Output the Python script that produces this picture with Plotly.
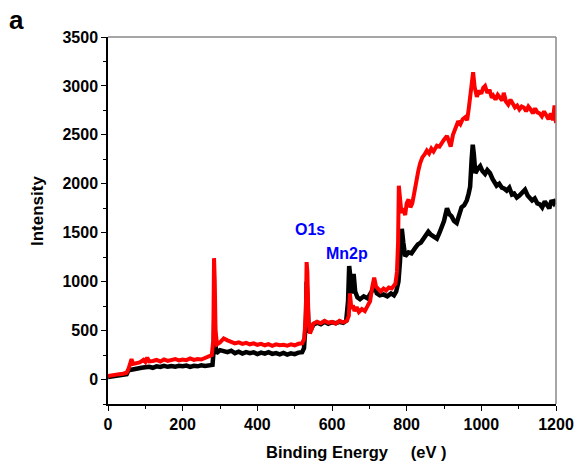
import plotly.graph_objects as go

# ---- data ----
black_x = [0, 10, 20, 30, 40, 50, 55, 60, 70, 80, 90, 100, 110, 120, 130, 140, 150, 160, 170, 180, 190, 200,
           210, 220, 230, 240, 250, 260, 270, 280, 283, 285, 287, 290, 300, 310, 320, 330, 340, 350, 360, 370,
           380, 390, 400, 410, 420, 430, 440, 450, 460, 470, 480, 490, 500, 510, 520, 525, 530, 532, 535, 538,
           545, 550, 560, 570, 580, 590, 600, 610, 620, 630, 638, 643, 646, 650, 654, 658, 662, 668, 675, 685,
           695, 700, 708, 714, 720, 728, 738, 748, 758, 766, 772, 778, 782, 787, 791, 796, 805, 813, 822, 830,
           838, 846, 852, 858, 865, 872, 881, 888, 894, 900, 908, 914, 920, 927, 934, 940, 947, 954, 961, 966,
           970, 974, 977, 980, 984, 990, 997, 1003, 1010, 1016, 1023, 1030, 1036, 1041, 1048, 1055, 1062, 1068,
           1075, 1082, 1088, 1095, 1102, 1110, 1117, 1124, 1130, 1136, 1143, 1150, 1157, 1163, 1170, 1176, 1182,
           1188, 1194, 1200]
black_y = [25, 30, 35, 40, 45, 55, 95, 100, 105, 115, 120, 125, 130, 120, 135, 128, 140, 130, 138, 132, 140, 135,
           142, 130, 140, 135, 145, 138, 148, 150, 300, 700, 400, 270, 300, 290, 280, 295, 270, 285, 265, 280,
           270, 278, 260, 275, 265, 280, 262, 270, 258, 272, 255, 268, 260, 275, 280, 320, 600, 1000, 700, 480,
           520, 560, 580, 565, 590, 570, 585, 575, 590, 580, 600, 800, 1160, 950, 880, 1080, 900, 840, 820, 850,
           830, 860, 920, 950, 880, 860, 870, 850, 880, 860, 900, 1000, 1200, 1540, 1400, 1260, 1300, 1290, 1340, 1380,
           1400, 1450, 1480, 1510, 1480, 1460, 1440, 1500, 1560, 1620, 1750, 1690, 1670, 1620, 1600, 1680, 1760, 1780, 1830, 1900,
           1970, 2250, 2400, 2300, 2110, 2150, 2180, 2130, 2100, 2140, 2110, 2050, 2020, 1980, 2000, 1960, 1950, 1930,
           1960, 1890, 1900, 1860, 1880, 1920, 1940, 1880, 1860, 1830, 1850, 1800, 1790, 1760, 1820, 1790, 1750,
           1830, 1800, 1840]

red_x = [0, 10, 20, 30, 40, 50, 55, 60, 63, 67, 75, 85, 95, 100, 105, 110, 120, 130, 140, 150, 160, 170, 180,
         190, 200, 210, 220, 230, 240, 250, 260, 270, 278, 282, 284, 286, 288, 292, 300, 310, 320, 330, 340, 350,
         360, 370, 380, 390, 400, 410, 420, 430, 440, 450, 460, 470, 480, 490, 500, 510, 520, 526, 530, 532, 534,
         537, 541, 546, 550, 560, 570, 580, 590, 600, 610, 620, 630, 640, 645, 648, 652, 656, 660, 666, 672, 680,
         688, 695, 702, 708, 713, 718, 724, 730, 738, 745, 752, 760, 766, 770, 774, 777, 779, 782, 786, 791, 796,
         800, 805, 810, 815, 820, 826, 831, 836, 842, 848, 854, 860, 866, 872, 881, 888, 894, 900, 908, 913, 918,
         924, 930, 938, 944, 950, 957, 962, 966, 970, 974, 978, 982, 988, 994, 1000, 1005, 1010, 1016, 1022, 1028,
         1032, 1038, 1044, 1050, 1056, 1060, 1066, 1072, 1078, 1084, 1090, 1096, 1102, 1108, 1114, 1120, 1126,
         1132, 1138, 1144, 1150, 1156, 1162, 1168, 1174, 1180, 1186, 1192, 1196, 1200]
red_y = [35, 45, 50, 55, 60, 70, 110, 190, 210, 160, 165, 175, 200, 180, 225, 185, 190, 200, 185, 205, 190, 200, 210,
         195, 205, 198, 215, 200, 210, 205, 220, 230, 250, 400, 1240, 1000, 500, 360, 380, 420, 400, 390, 370, 380,
         365, 375, 360, 370, 355, 365, 350, 362, 345, 360, 350, 355, 345, 360, 350, 365, 370, 420, 700, 1200, 1100,
         600, 470, 520, 570, 590, 575, 600, 580, 590, 570, 600, 585, 600, 650, 880, 720, 760, 700, 740, 690, 720,
         700, 750, 800, 950, 1040, 950, 930, 900, 930, 910, 940, 930, 960, 980, 1100, 1400, 1980, 1850, 1700, 1750, 1680,
         1800, 1840, 1760, 1800, 1900, 2050, 2130, 2210, 2270, 2300, 2340, 2310, 2360, 2330, 2390, 2380, 2420, 2450, 2490, 2420, 2380,
         2500, 2560, 2640, 2610, 2660, 2680, 2650, 2760, 2900, 3050, 3140, 2990, 2890, 2950, 2920, 2980, 3000, 2930, 2960, 2880,
         2900, 2860, 2910, 2880, 2850, 2930, 2840, 2810, 2860, 2820, 2780, 2800, 2760, 2790, 2780, 2740, 2790,
         2760, 2720, 2770, 2730, 2720, 2690, 2740, 2700, 2660, 2720, 2650, 2800, 2620]

peak_labels = ["O1s", "Mn2p"]
peak_label_x = [540, 641]
peak_label_y = [1530, 1285]

x_ticks = [0, 200, 400, 600, 800, 1000, 1200]
y_ticks = [0, 500, 1000, 1500, 2000, 2500, 3000, 3500]

FONT = "Liberation Sans, Arial, sans-serif"

W, H = 579, 464
L, R, T, B = 108, 23, 37, 60
PW, PH = W - L - R, H - T - B


def px_to_paper(px, py):
    return (px - L) / PW, 1 - (py - T) / PH


fig = go.Figure()
fig.add_trace(go.Scatter(x=black_x, y=black_y, mode="lines",
                         line=dict(color="black", width=4.5), showlegend=False))
fig.add_trace(go.Scatter(x=red_x, y=red_y, mode="lines",
                         line=dict(color="#ff0000", width=4), showlegend=False))

for t, xx, yy in zip(peak_labels, peak_label_x, peak_label_y):
    fig.add_annotation(x=xx, y=yy, text="<b>%s</b>" % t, showarrow=False,
                       xanchor="center", yanchor="middle",
                       font=dict(family=FONT, size=16, color="#0000ff"))

# gray top and right frame lines
fig.add_shape(type="line", xref="paper", yref="paper", x0=0, x1=1, y0=1, y1=1,
              line=dict(color="#888888", width=1.5))
fig.add_shape(type="line", xref="paper", yref="paper", x0=1, x1=1, y0=0, y1=1,
              line=dict(color="#888888", width=1.5))

# panel label "a"
ax, ay = px_to_paper(16.5, 20)
fig.add_annotation(x=ax, y=ay, xref="paper", yref="paper", xanchor="center", yanchor="middle",
                   text="<b>a</b>", showarrow=False, font=dict(family=FONT, size=26, color="black"))

# axis titles
tx, ty = px_to_paper(356, 452)
fig.add_annotation(x=tx, y=ty, xref="paper", yref="paper", xanchor="center", yanchor="middle",
                   text="<b>Binding Energy&nbsp;&nbsp;&nbsp;&nbsp;&nbsp;(eV )</b>", showarrow=False,
                   font=dict(family=FONT, size=16.5, color="black"))
ix, iy = px_to_paper(37, 211)
fig.add_annotation(x=ix, y=iy, xref="paper", yref="paper", xanchor="center", yanchor="middle",
                   text="<b>Intensity</b>", textangle=-90, showarrow=False,
                   font=dict(family=FONT, size=17, color="black"))

fig.update_layout(
    width=W, height=H,
    margin=dict(l=L, r=R, t=T, b=B),
    paper_bgcolor="white", plot_bgcolor="white",
    font=dict(family=FONT, size=16, color="black"),
    xaxis=dict(range=[0, 1200], tickvals=x_ticks, ticktext=["<b>%d</b>" % v for v in x_ticks],
               showgrid=False, zeroline=False, showline=True, linecolor="black", linewidth=1.5,
               ticks="outside", ticklen=5, tickwidth=1.2, tickcolor="black", automargin=False,
               minor=dict(dtick=100, ticks="outside", ticklen=3, tickwidth=1, tickcolor="black", showgrid=False),
               tickfont=dict(size=16)),
    yaxis=dict(range=[-250, 3500], tickvals=y_ticks, ticktext=["<b>%d</b>" % v for v in y_ticks],
               showgrid=False, zeroline=False, showline=True, linecolor="black", linewidth=1.5,
               ticks="outside", ticklen=5, tickwidth=1.2, tickcolor="black", automargin=False,
               minor=dict(dtick=250, tick0=0, ticks="outside", ticklen=3, tickwidth=1, tickcolor="black", showgrid=False),
               tickfont=dict(size=16)),
)

fig.write_html("out.html")
